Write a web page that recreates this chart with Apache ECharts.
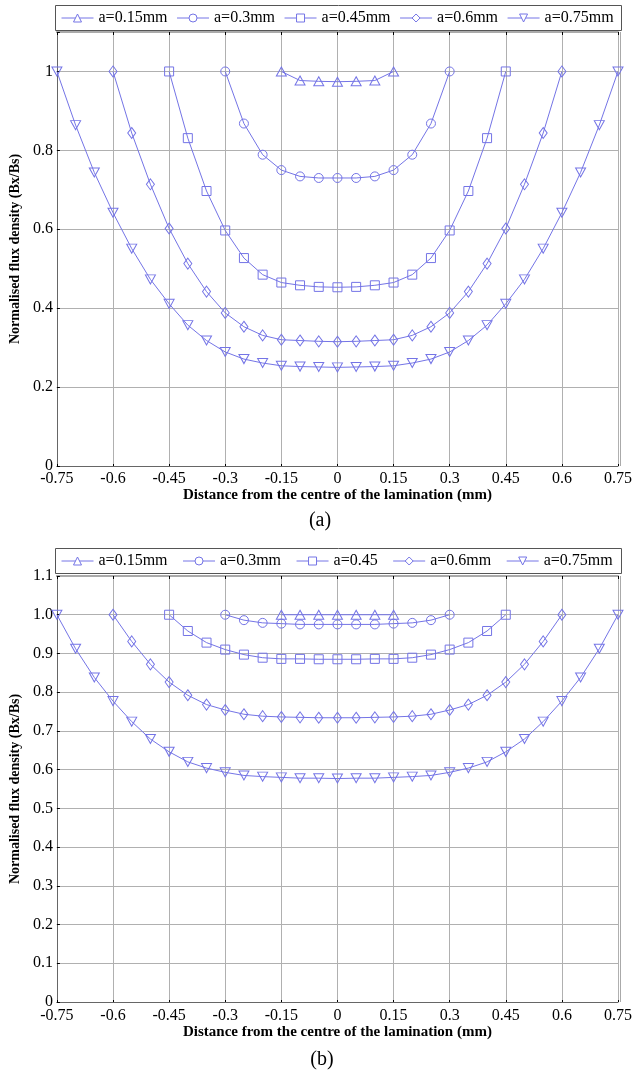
<!DOCTYPE html>
<html><head><meta charset="utf-8">
<script src="https://cdn.jsdelivr.net/npm/echarts@6/dist/echarts.min.js"></script>
<style>html,body{margin:0;padding:0;background:#fff}#c{width:635px;height:1078px}</style>
</head><body><div id="c"></div>
<script>
// x positions (mm)
const xs = [-0.75,-0.7,-0.65,-0.6,-0.55,-0.5,-0.45,-0.4,-0.35,-0.3,-0.25,-0.2,-0.15,-0.1,-0.05,0,0.05,0.1,0.15,0.2,0.25,0.3,0.35,0.4,0.45,0.5,0.55,0.6,0.65,0.7,0.75];
const namesA = ['a=0.15mm','a=0.3mm','a=0.45mm','a=0.6mm','a=0.75mm'];
const namesB = ['a=0.15mm','a=0.3mm','a=0.45','a=0.6mm','a=0.75mm'];
// chart (a)
const a015 = [1,0.977,0.975,0.974,0.975,0.977,1];
const a030 = [1,0.868,0.789,0.750,0.734,0.730,0.730,0.730,0.734,0.750,0.789,0.868,1];
const a045 = [1,0.831,0.697,0.597,0.527,0.485,0.465,0.458,0.454,0.453,0.454,0.458,0.465,0.485,0.527,0.597,0.697,0.831,1];
const a060 = [1,0.844,0.714,0.602,0.513,0.442,0.388,0.353,0.331,0.320,0.318,0.316,0.315,0.316,0.318,0.320,0.331,0.353,0.388,0.442,0.513,0.602,0.714,0.844,1];
const a075 = [1,0.864,0.744,0.642,0.551,0.473,0.411,0.357,0.318,0.289,0.271,0.261,0.254,0.252,0.251,0.250,0.251,0.252,0.254,0.261,0.271,0.289,0.318,0.357,0.411,0.473,0.551,0.642,0.744,0.864,1];
// chart (b)
const b015 = [1,1,1,1,1,1,1];
const b030 = [1,0.986,0.979,0.977,0.975,0.975,0.975,0.975,0.975,0.977,0.979,0.986,1];
const b045 = [1,0.958,0.928,0.910,0.897,0.889,0.886,0.886,0.885,0.885,0.885,0.886,0.886,0.889,0.897,0.910,0.928,0.958,1];
const b060 = [1,0.931,0.872,0.826,0.792,0.768,0.754,0.743,0.738,0.736,0.735,0.734,0.734,0.734,0.735,0.736,0.738,0.743,0.754,0.768,0.792,0.826,0.872,0.931,1];
const b075 = [1,0.912,0.838,0.777,0.724,0.679,0.646,0.620,0.604,0.593,0.585,0.582,0.580,0.578,0.578,0.577,0.578,0.578,0.580,0.582,0.585,0.593,0.604,0.620,0.646,0.679,0.724,0.777,0.838,0.912,1];

const COL = '#7474e6';
const FONT = '"Liberation Serif","Times New Roman",serif';
const symbols = ['triangle','circle','rect','diamond','path://M0,0L10,0L5,9Z'];
const sizes = [[10,9],9,9,[8,11],[10,9]];

function pairs(vals){
  const n = vals.length, start = (xs.length - n)/2;
  return vals.map((v,i)=>[xs[start+i], v]);
}
function mk(name, vals, k, gi){
  return {
    type:'line', name, xAxisIndex:gi*2, yAxisIndex:gi, data:pairs(vals),
    symbol:symbols[k], symbolSize:sizes[k], showAllSymbol:true, color:COL,
    lineStyle:{color:COL,width:1}, itemStyle:{color:'rgba(255,255,255,0)',borderColor:COL,borderWidth:1},
    animation:false, z:3
  };
}
const seriesA = [a015,a030,a045,a060,a075].map((d,k)=>mk(namesA[k],d,k,0));
const seriesB = [b015,b030,b045,b060,b075].map((d,k)=>mk(namesB[k],d,k,1));

function xFmt(v){ return String(+(+v).toFixed(2)); }
const grids = [
  {left:55, right:15, top:32, height:434},
  {left:55, right:15, top:576, height:426}
];
function xAxes(gi, margin, gap){
  return [{
    type:'value', gridIndex:gi, min:-0.75, max:0.75, interval:0.15, position:'bottom',
    axisLine:{show:true,onZero:false,lineStyle:{color:'#666',width:1}},
    axisTick:{show:true,inside:true,length:2,lineStyle:{color:'#000'}},
    axisLabel:{color:'#000',fontFamily:FONT,fontSize:16,margin:margin,formatter:xFmt,showMinLabel:true,showMaxLabel:true},
    splitLine:{show:true,lineStyle:{color:'#b0b0b0',width:1}},
    name:'Distance from the centre of the lamination (mm)', nameLocation:'middle', nameGap:gap,
    nameTextStyle:{color:'#000',fontFamily:FONT,fontSize:15,fontWeight:'bold'}
  },{
    type:'value', gridIndex:gi, min:-0.75, max:0.75, interval:0.15, position:'top',
    axisLine:{show:true,onZero:false,lineStyle:{color:'#aaa',width:2}},
    axisTick:{show:true,inside:true,length:3,lineStyle:{color:'#000'}},
    axisLabel:{show:false}, splitLine:{show:false}
  }];
}
function yAxis(gi, interval, fmt, gap){
  return {
    type:'value', gridIndex:gi, min:0, max:1.1, interval:interval,
    axisLine:{show:true,onZero:false,lineStyle:{color:'#666'}},
    axisTick:{show:true,inside:true,length:3,lineStyle:{color:'#000'}},
    axisLabel:{color:'#000',fontFamily:FONT,fontSize:16,margin:4,formatter:fmt},
    splitLine:{show:true,lineStyle:{color:'#b0b0b0',width:1}},
    name:'Normalised flux density (Bx/Bs)', nameLocation:'middle', nameGap:gap,
    nameTextStyle:{color:'#000',fontFamily:FONT,fontSize:14,fontWeight:'bold'}
  };
}
const legendStyle = {
  itemWidth:32, itemHeight:10, padding:0, selectedMode:false,
  textStyle:{fontFamily:FONT,fontSize:16,color:'#000'},
  itemStyle:{color:'#fff',borderColor:COL,borderWidth:1},
  lineStyle:{color:COL,width:1}
};
const option = {
  backgroundColor:'#fff',
  animation:false,
  grid:grids,
  legend:[
    Object.assign({data:namesA, left:61, top:10, itemGap:9}, legendStyle),
    Object.assign({data:namesB, left:61, top:553, itemGap:15}, legendStyle)
  ],
  xAxis:[...xAxes(0,5,20), ...xAxes(1,6,23)],
  yAxis:[
    yAxis(0, 0.2, v=>(v>1.05?'':String(+(+v).toFixed(1))), 26),
    yAxis(1, 0.1, v=>(Math.abs(v)<1e-9?'0':(+v).toFixed(1)), 31)
  ],
  graphic:[
    {type:'rect', shape:{x:55.5,y:5.5,width:566,height:25}, style:{fill:'none',stroke:'#555',lineWidth:1}, z:1},
    {type:'rect', shape:{x:55.5,y:548.5,width:566,height:25}, style:{fill:'none',stroke:'#555',lineWidth:1}, z:1},
    {type:'line', shape:{x1:620.5,y1:32,x2:620.5,y2:466}, style:{stroke:'#aaa',lineWidth:1}},
    {type:'line', shape:{x1:620.5,y1:576,x2:620.5,y2:1002}, style:{stroke:'#aaa',lineWidth:1}},
    {type:'text', x:320, y:521, style:{text:'(a)',font:'20px '+FONT,fill:'#000',textAlign:'center',textVerticalAlign:'middle'}},
    {type:'text', x:322, y:1060, style:{text:'(b)',font:'20px '+FONT,fill:'#000',textAlign:'center',textVerticalAlign:'middle'}}
  ],
  series:[...seriesA, ...seriesB]
};
const chart = echarts.init(document.getElementById('c'), null, {renderer:'canvas'});
chart.setOption(option);
</script></body></html>
